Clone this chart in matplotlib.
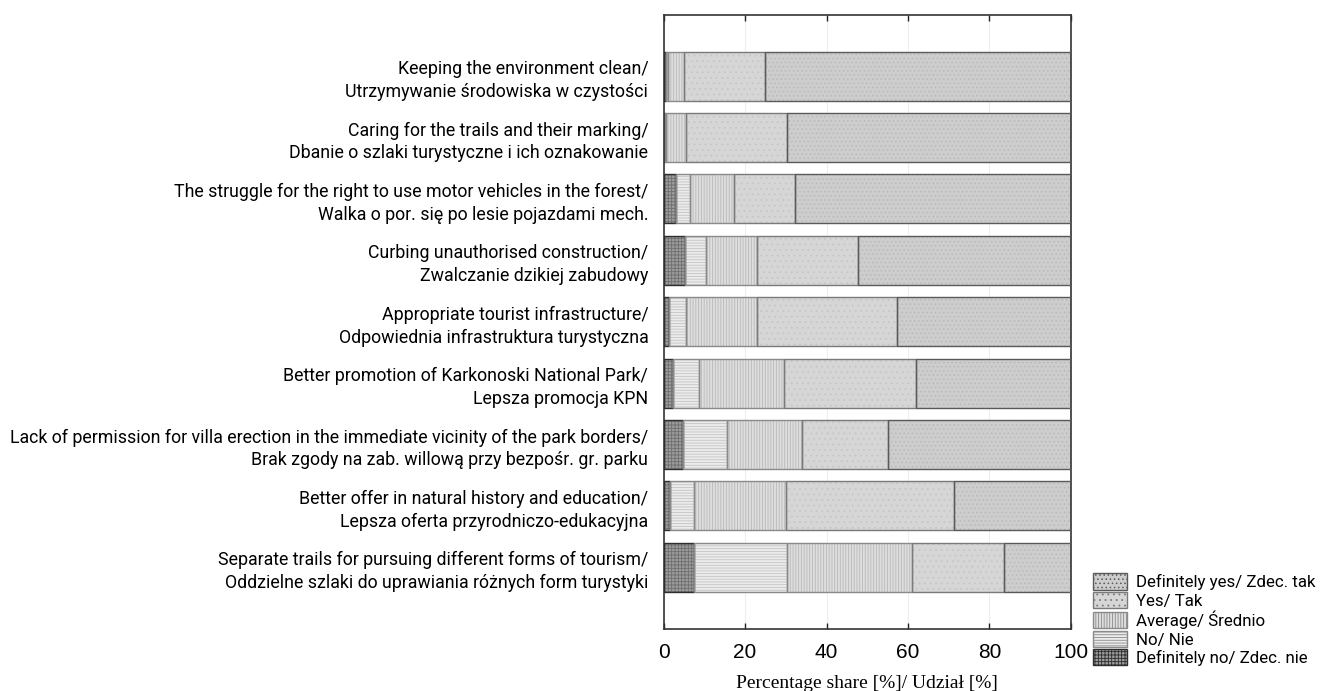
import matplotlib
matplotlib.use("Agg")
import matplotlib.pyplot as plt
from matplotlib.patches import Patch
import numpy as np

plt.rcParams['hatch.linewidth'] = 0.6

categories = [
    "Keeping the environment clean/\nUtrzymywanie środowiska w czystości",
    "Caring for the trails and their marking/\nDbanie o szlaki turystyczne i ich oznakowanie",
    "The struggle for the right to use motor vehicles in the forest/\nWalka o por. się po lesie pojazdami mech.",
    "Curbing unauthorised construction/\nZwalczanie dzikiej zabudowy",
    "Appropriate tourist infrastructure/\nOdpowiednia infrastruktura turystyczna",
    "Better promotion of Karkonoski National Park/\nLepsza promocja KPN",
    "Lack of permission for villa erection in the immediate vicinity of the park borders/\nBrak zgody na zab. willową przy bezpośr. gr. parku",
    "Better offer in natural history and education/\nLepsza oferta przyrodniczo-edukacyjna",
    "Separate trails for pursuing different forms of tourism/\nOddzielne szlaki do uprawiania różnych form turystyki",
]

definitely_no = [0.6, 0.4, 3.0, 5.2, 1.2, 2.3, 4.8, 1.6, 7.4]
no = [0.4, 0.3, 3.5, 5.2, 4.4, 6.5, 10.8, 5.8, 22.9]
average = [4.0, 4.7, 10.7, 12.6, 17.4, 20.8, 18.3, 22.7, 30.6]
yes = [20.0, 25.0, 15.1, 24.8, 34.4, 32.3, 21.2, 41.1, 22.8]
definitely_yes = [75.0, 69.6, 67.7, 52.2, 42.6, 38.1, 44.9, 28.8, 16.3]

series_labels = ["Definitely no/ Zdec. nie", "No/ Nie", "Average/ Średnio",
                 "Yes/ Tak", "Definitely yes/ Zdec. tak"]
xticks = [0, 20, 40, 60, 80, 100]

styles = [
    dict(fc="#9c9c9c", hc="#6e6e6e", hatch="+++++", ec="#2e2e2e"),
    dict(fc="#ebebeb", hc="#c4c4c4", hatch="------", ec="#8a8a8a"),
    dict(fc="#dedede", hc="#b8b8b8", hatch="||||||", ec="#8a8a8a"),
    dict(fc="#d6d6d6", hc="#c6c6c6", hatch="...", ec="#7a7a7a"),
    dict(fc="#cdcdcd", hc="#b9b9b9", hatch="....", ec="#5a5a5a"),
]

fig = plt.figure(figsize=(13.22, 6.91), dpi=100)
ax = fig.add_axes([0.502, 0.0902, 0.308, 0.8885])

ypos = np.arange(1, len(categories) + 1)
data = [definitely_no, no, average, yes, definitely_yes]
left = np.zeros(len(categories))
for vals, st in zip(data, styles):
    vals = np.array(vals)
    ax.barh(ypos, vals, left=left, height=0.8, color=st["fc"],
            edgecolor=st["hc"], hatch=st["hatch"], linewidth=0, zorder=2)
    ax.barh(ypos, vals, left=left, height=0.8, fill=False,
            edgecolor=st["ec"], linewidth=1.0, zorder=3)
    left += vals

ax.set_xlim(0, 100)
ax.set_ylim(10, 0)
ax.set_xticks(xticks)
ax.set_xticklabels([str(t) for t in xticks], fontfamily="Liberation Sans", fontsize=15)
ax.tick_params(axis='x', direction='in', top=True, length=4, width=1, color="#222", pad=10)
ax.set_yticks(ypos)
ax.set_yticklabels(categories, fontfamily="Roboto", fontsize=12.8, ha='right',
                   multialignment='right', linespacing=1.35)
ax.tick_params(axis='y', length=0, pad=11)
ax.grid(axis='x', color="#eeeeee", linewidth=0.8, zorder=0)
ax.set_axisbelow(True)
for s in ax.spines.values():
    s.set_color("#333333")
    s.set_linewidth(1.2)

ax.set_xlabel("Percentage share [%]/ Udział [%]", fontfamily="Liberation Serif",
              fontsize=14, labelpad=10)

handles = []
for st in reversed(styles):
    handles.append(Patch(facecolor=st["fc"], edgecolor=st["ec"], hatch=st["hatch"], linewidth=1.0))
leg = fig.legend(handles, list(reversed(series_labels)), loc='lower left',
                 bbox_to_anchor=(0.8265, 0.036), frameon=False,
                 prop=dict(family="Roboto", size=12.2),
                 handlelength=2.0, handleheight=1.1, labelspacing=0.1,
                 handletextpad=0.55, borderpad=0, borderaxespad=0)

fig.savefig("out.png", dpi=100)
